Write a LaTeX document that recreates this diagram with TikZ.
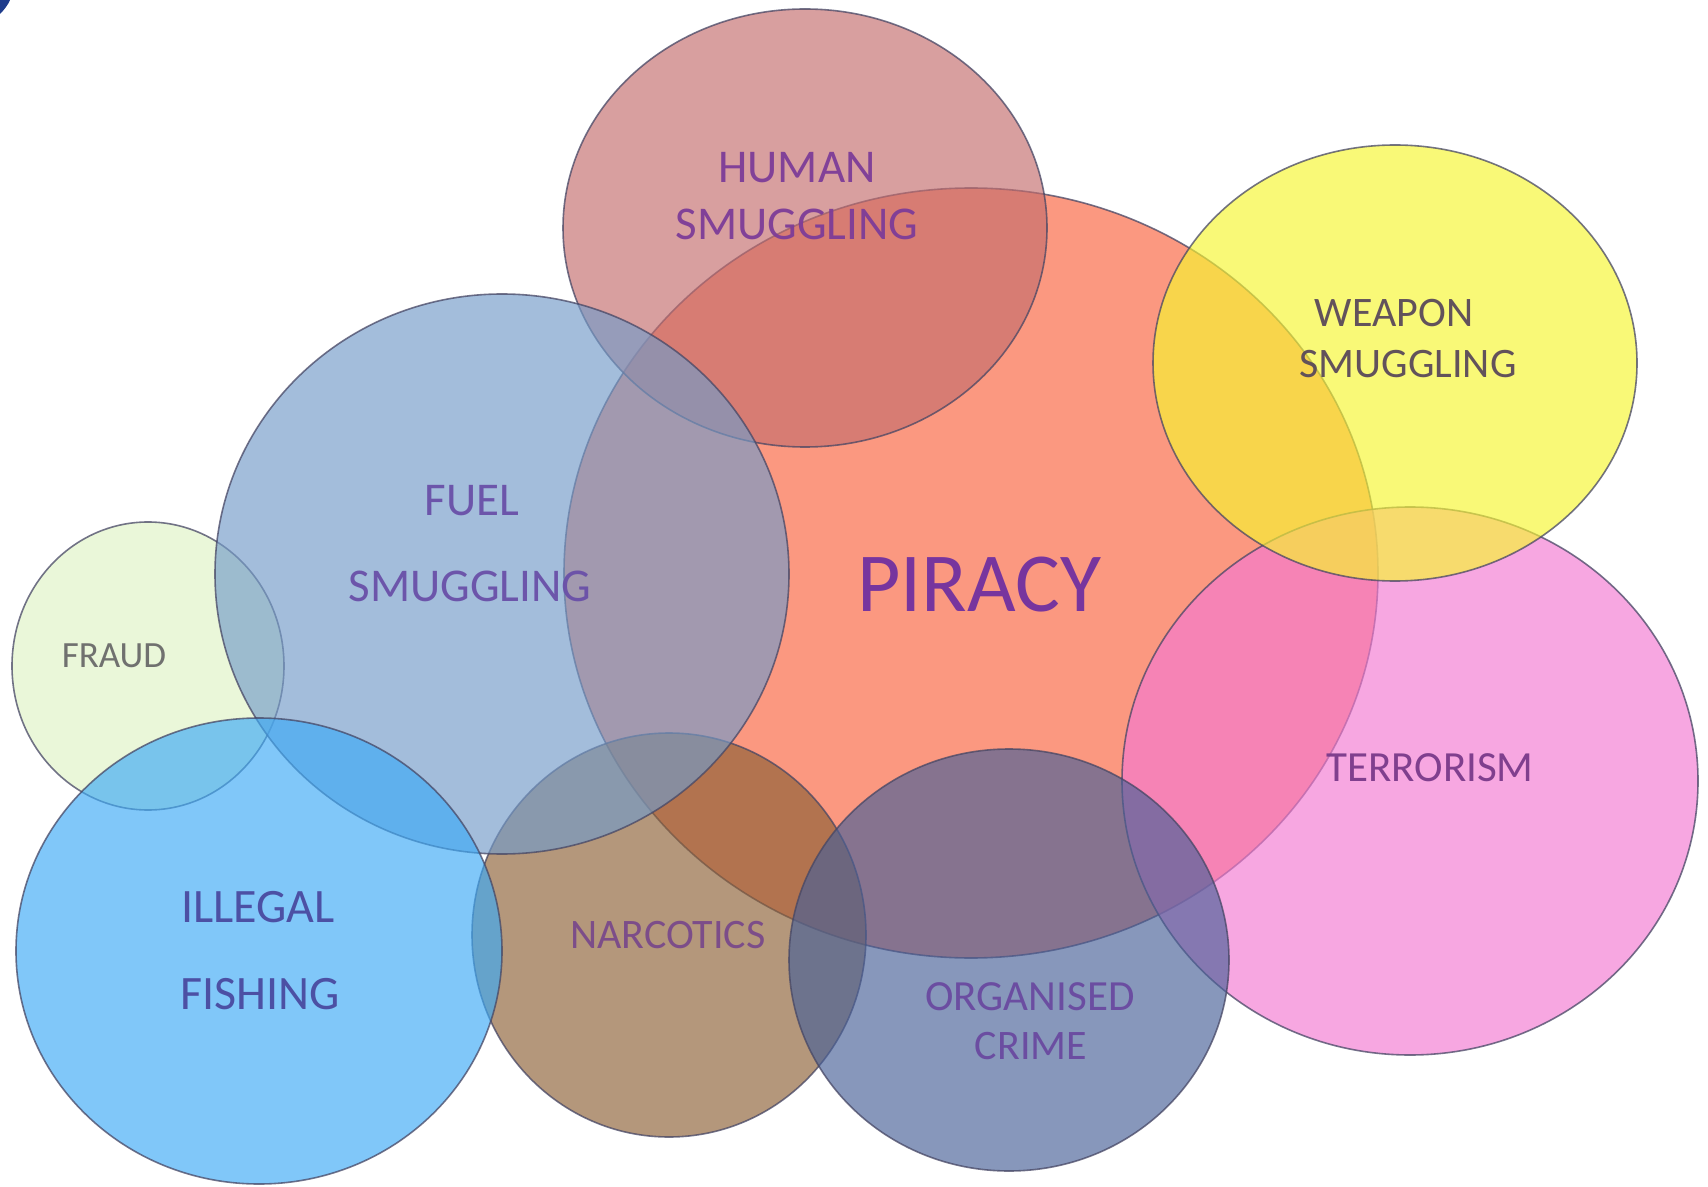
\documentclass[tikz,border=0pt]{standalone}
\usepackage{fontspec}
\setmainfont{Carlito}
\definecolor{cPir}{RGB}{250,97,60}
\definecolor{cHum}{RGB}{196,109,109}
\definecolor{cWea}{RGB}{247,247,47}
\definecolor{cTer}{RGB}{244,121,210}
\definecolor{cFue}{RGB}{115,155,201}
\definecolor{cFra}{RGB}{224,244,198}
\definecolor{cFis}{RGB}{60,170,247}
\definecolor{cNar}{RGB}{140,96,53}
\definecolor{cOrg}{RGB}{72,96,152}
\definecolor{edge}{RGB}{70,70,100}
\definecolor{cornerblue}{RGB}{31,60,140}
\definecolor{tPur}{RGB}{112,48,160}
\definecolor{tHum}{RGB}{125,60,152}
\definecolor{tWea}{RGB}{90,74,90}
\definecolor{tFue}{RGB}{106,80,168}
\definecolor{tFra}{RGB}{106,106,106}
\definecolor{tTer}{RGB}{122,58,138}
\definecolor{tFis}{RGB}{74,74,160}
\definecolor{tNar}{RGB}{122,74,138}
\definecolor{tOrg}{RGB}{106,74,160}
\tikzset{
  blob/.style={fill=#1, fill opacity=0.65, draw=edge, draw opacity=0.75, line width=0.8pt},
  lab/.style={anchor=base, inner sep=0pt, text opacity=0.95}
}
\newcommand{\fsz}[1]{\fontsize{#1}{#1}\selectfont}
\begin{document}
\begin{tikzpicture}[x=0.5pt,y=-0.5pt]
\fill[white] (0,0) rectangle (1708,1187);
\useasboundingbox (0,0) rectangle (1708,1187);
\fill[cornerblue] (0,0) -- (10,0) .. controls (8,5) and (4,10) .. (0,14) -- cycle;
% shapes
\path[blob=cPir] (971,573) ellipse [x radius=407, y radius=385];
\path[blob=cTer] (1410,781) ellipse [x radius=288, y radius=274];
\path[blob=cWea] (1395,363) ellipse [x radius=242, y radius=218];
\path[blob=cHum] (805,228) ellipse [x radius=242, y radius=219];
\path[blob=cNar] (669,935) ellipse [x radius=197, y radius=202];
\path[blob=cFra] (148,666) ellipse [x radius=136, y radius=144];
\path[blob=cFue] (502,574) ellipse [x radius=287, y radius=280];
\path[blob=cFis] (259,951) ellipse [x radius=243, y radius=233];
\path[blob=cOrg] (1009,960) ellipse [x radius=220, y radius=211];
% labels
\node[lab, text=tHum, font=\fsz{23.5}] (hum1) at (797,183) {HUMAN};
\node[lab, text=tHum, font=\fsz{23.5}] (hum2) at (797,240) {SMUGGLING};
\node[lab, text=tWea, font=\fsz{21}] (wea1) at (1394,327) {WEAPON};
\node[lab, text=tWea, font=\fsz{21}] (wea2) at (1408,378) {SMUGGLING};
\node[lab, text=tFue, font=\fsz{23.5}] (fue1) at (472,516) {FUEL};
\node[lab, text=tFue, font=\fsz{23.5}] (fue2) at (470,601) {SMUGGLING};
\node[lab, text=tPur, font=\fsz{42}] (pir) at (979,611) {PIRACY};
\node[lab, text=tFra, font=\fsz{18.5}] (fra) at (114,667) {FRAUD};
\node[lab, text=tTer, font=\fsz{21.5}] (ter) at (1430,781) {TERRORISM};
\node[lab, text=tFis, font=\fsz{24}] (fis1) at (258,922) {ILLEGAL};
\node[lab, text=tFis, font=\fsz{24}] (fis2) at (260,1009) {FISHING};
\node[lab, text=tNar, font=\fsz{21}] (nar) at (668,948) {NARCOTICS};
\node[lab, text=tOrg, font=\fsz{21.5}] (org1) at (1030,1010) {ORGANISED};
\node[lab, text=tOrg, font=\fsz{21}] (org2) at (1031,1059) {CRIME};
\end{tikzpicture}
\end{document}
